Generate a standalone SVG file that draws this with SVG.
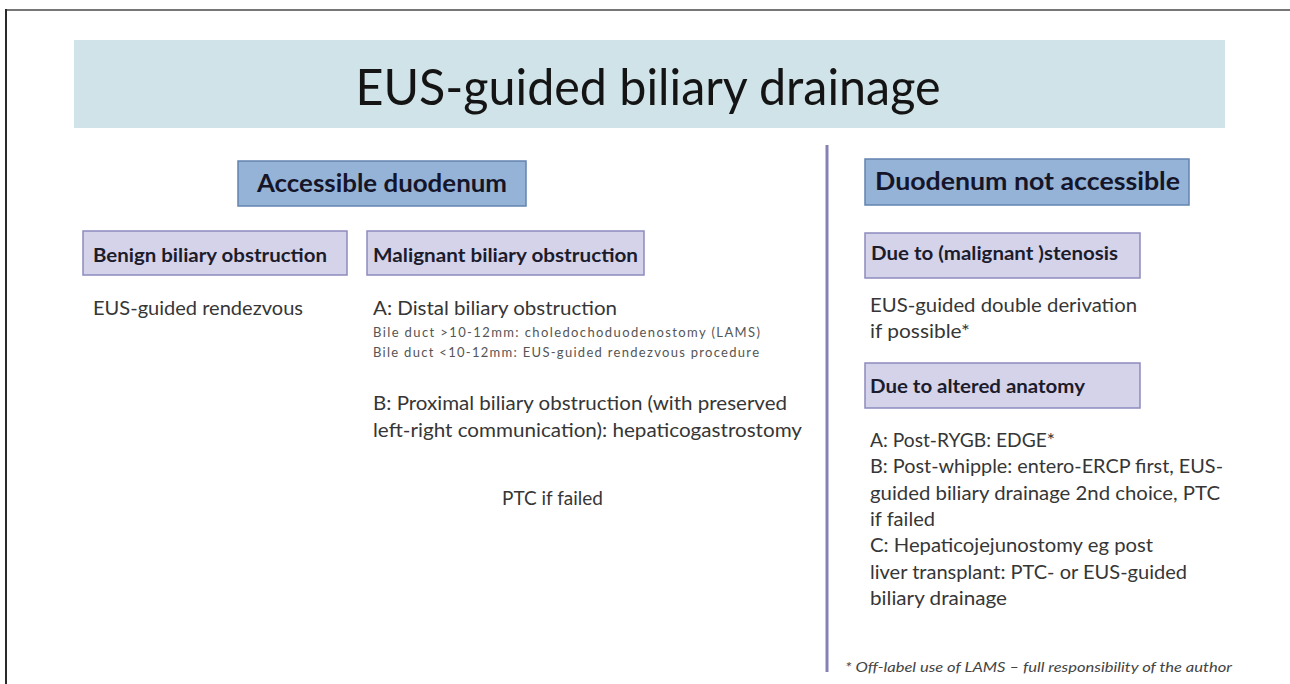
<svg xmlns="http://www.w3.org/2000/svg" width="1290" height="684" viewBox="0 0 1290 684">
  <style>
    .frame { stroke-width: 2; fill: none; }
    .banner { fill: #cfe3e9; }
    .hdr { fill: #95b3d7; stroke: #6384b0; stroke-width: 1.5; }
    .sub { fill: #d4d3ea; stroke: #8d8bbf; stroke-width: 1.5; }
    text { font-family: Lato, "Liberation Sans", sans-serif; }
    .title { font-size: 50px; fill: #141414; }
    .hdrT { font-size: 24px; font-weight: bold; fill: #15152a; }
    .subT { font-size: 18px; font-weight: bold; fill: #1c1c2c; }
    .body { font-size: 19.5px; fill: #363636; }
    .small { font-size: 13px; fill: #555; }
    .note { font-size: 12.5px; font-style: italic; fill: #444; }
  </style>

  <g id="frame">
    <line class="frame" x1="6" y1="10" x2="1290" y2="10" stroke="#767676"/>
    <line class="frame" x1="6" y1="9" x2="6" y2="684" stroke="#2a2a2a"/>
  </g>

  <g id="title">
    <rect class="banner" x="74" y="40" width="1151" height="88"/>
    <text class="title" x="648" y="105" text-anchor="middle" textLength="585" lengthAdjust="spacingAndGlyphs">EUS-guided biliary drainage</text>
  </g>

  <g id="connectors">
    <line id="divider" x1="827" y1="145" x2="827" y2="672" stroke="#8581b6" stroke-width="3"/>
  </g>

  <g id="accessible">
    <rect class="hdr" x="238" y="161" width="288" height="45"/>
    <text class="hdrT" x="382" y="192" text-anchor="middle" textLength="250" lengthAdjust="spacingAndGlyphs">Accessible duodenum</text>
  </g>

  <g id="not-accessible">
    <rect class="hdr" x="865" y="159" width="324" height="46"/>
    <text class="hdrT" x="875" y="190" textLength="305" lengthAdjust="spacingAndGlyphs">Duodenum not accessible</text>
  </g>

  <g id="benign">
    <rect class="sub" x="83" y="231" width="264" height="44"/>
    <text class="subT" x="93" y="262" textLength="234" lengthAdjust="spacingAndGlyphs">Benign biliary obstruction</text>
    <text class="body" x="93" y="315" textLength="210" lengthAdjust="spacingAndGlyphs">EUS-guided rendezvous</text>
  </g>

  <g id="malignant">
    <rect class="sub" x="367" y="231" width="277" height="44"/>
    <text class="subT" x="373" y="262" textLength="265" lengthAdjust="spacingAndGlyphs">Malignant biliary obstruction</text>
    <text class="body" x="373" y="315" textLength="244" lengthAdjust="spacingAndGlyphs">A: Distal biliary obstruction</text>
    <text class="small" x="373" y="337" textLength="387" lengthAdjust="spacing">Bile duct &gt;10-12mm: choledochoduodenostomy (LAMS)</text>
    <text class="small" x="373" y="357" textLength="386" lengthAdjust="spacing">Bile duct &lt;10-12mm: EUS-guided rendezvous procedure</text>
    <text class="body" x="373" y="410" textLength="414" lengthAdjust="spacingAndGlyphs">B: Proximal biliary obstruction (with preserved</text>
    <text class="body" x="373" y="437" textLength="429" lengthAdjust="spacingAndGlyphs">left-right communication): hepaticogastrostomy</text>
    <text class="body" x="502" y="505" textLength="101" lengthAdjust="spacingAndGlyphs">PTC if failed</text>
  </g>

  <g id="stenosis">
    <rect class="sub" x="865" y="233" width="275" height="45"/>
    <text class="subT" x="871" y="260" textLength="247" lengthAdjust="spacingAndGlyphs">Due to (malignant )stenosis</text>
    <text class="body" x="870" y="312" textLength="267" lengthAdjust="spacingAndGlyphs">EUS-guided double derivation</text>
    <text class="body" x="870" y="338" textLength="100" lengthAdjust="spacingAndGlyphs">if possible*</text>
  </g>

  <g id="altered-anatomy">
    <rect class="sub" x="865" y="363" width="275" height="45"/>
    <text class="subT" x="870" y="393" textLength="215" lengthAdjust="spacingAndGlyphs">Due to altered anatomy</text>
    <text class="body" x="870" y="447" textLength="185" lengthAdjust="spacingAndGlyphs">A: Post-RYGB: EDGE*</text>
    <text class="body" x="870" y="473" textLength="353" lengthAdjust="spacingAndGlyphs">B: Post-whipple: entero-ERCP first, EUS-</text>
    <text class="body" x="870" y="500" textLength="350" lengthAdjust="spacingAndGlyphs">guided biliary drainage 2nd choice, PTC</text>
    <text class="body" x="870" y="526" textLength="65" lengthAdjust="spacingAndGlyphs">if failed</text>
    <text class="body" x="870" y="552" textLength="283" lengthAdjust="spacingAndGlyphs">C: Hepaticojejunostomy eg post</text>
    <text class="body" x="870" y="579" textLength="317" lengthAdjust="spacingAndGlyphs">liver transplant: PTC- or EUS-guided</text>
    <text class="body" x="870" y="605" textLength="137" lengthAdjust="spacingAndGlyphs">biliary drainage</text>
  </g>

  <g id="footnote">
    <text class="note" x="845" y="672" textLength="387" lengthAdjust="spacingAndGlyphs">* Off-label use of LAMS – full responsibility of the author</text>
  </g>
</svg>
